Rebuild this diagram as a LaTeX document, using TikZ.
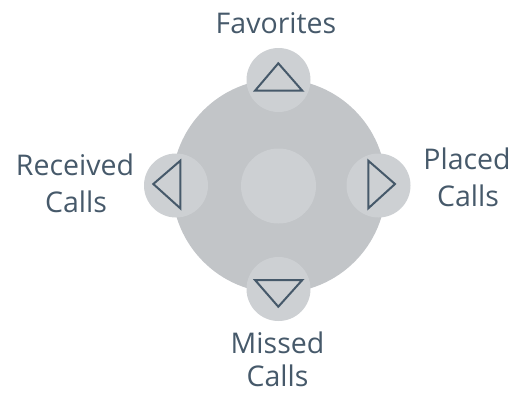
\documentclass[tikz,border=0pt]{standalone}
\usepackage{fontspec}
\setmainfont{Open Sans}
\definecolor{bigc}{HTML}{C2C5C8}
\definecolor{smallc}{HTML}{CDD0D3}
\definecolor{ink}{HTML}{46596A}
\begin{document}
\begin{tikzpicture}[x=1pt,y=-1pt,
  lbl/.style={text=ink,font=\fontsize{28.5}{37}\selectfont,inner sep=0pt,anchor=base},
  knob/.style={circle,fill=smallc,minimum size=64pt,inner sep=0pt},
  tri/.style={draw=ink,line width=2pt,line join=miter}]
\useasboundingbox (0,0) rectangle (516,394);
\node[circle,fill=bigc,minimum size=214pt,inner sep=0pt] (big) at (279,186) {};
\node[circle,fill=smallc,minimum size=75pt,inner sep=0pt] (ctr) at (278.5,186) {};
\node[knob] (up) at (278.5,80) {};
\node[knob] (left) at (176,185.5) {};
\node[knob] (right) at (378.5,185.5) {};
\node[knob] (down) at (278.5,289) {};
\draw[tri] (278.3,63.3) -- (255,90.7) -- (302.3,90.7) -- cycle;
\draw[tri] (153.3,184) -- (180.3,160.7) -- (180.3,208.3) -- cycle;
\draw[tri] (368.3,160.7) -- (368.3,208.3) -- (395,184) -- cycle;
\draw[tri] (255,280) -- (302.3,280) -- (278.3,306.7) -- cycle;
\node[lbl] (fav) at (276,33) {Favorites};
\node[lbl] (rec1) at (75,175) {Received};
\node[lbl] (rec2) at (76,212) {Calls};
\node[lbl] (pl1) at (467,169) {Placed};
\node[lbl] (pl2) at (468,206) {Calls};
\node[lbl] (mi1) at (277.5,353) {Missed};
\node[lbl] (mi2) at (277.5,386) {Calls};
\end{tikzpicture}
\end{document}
